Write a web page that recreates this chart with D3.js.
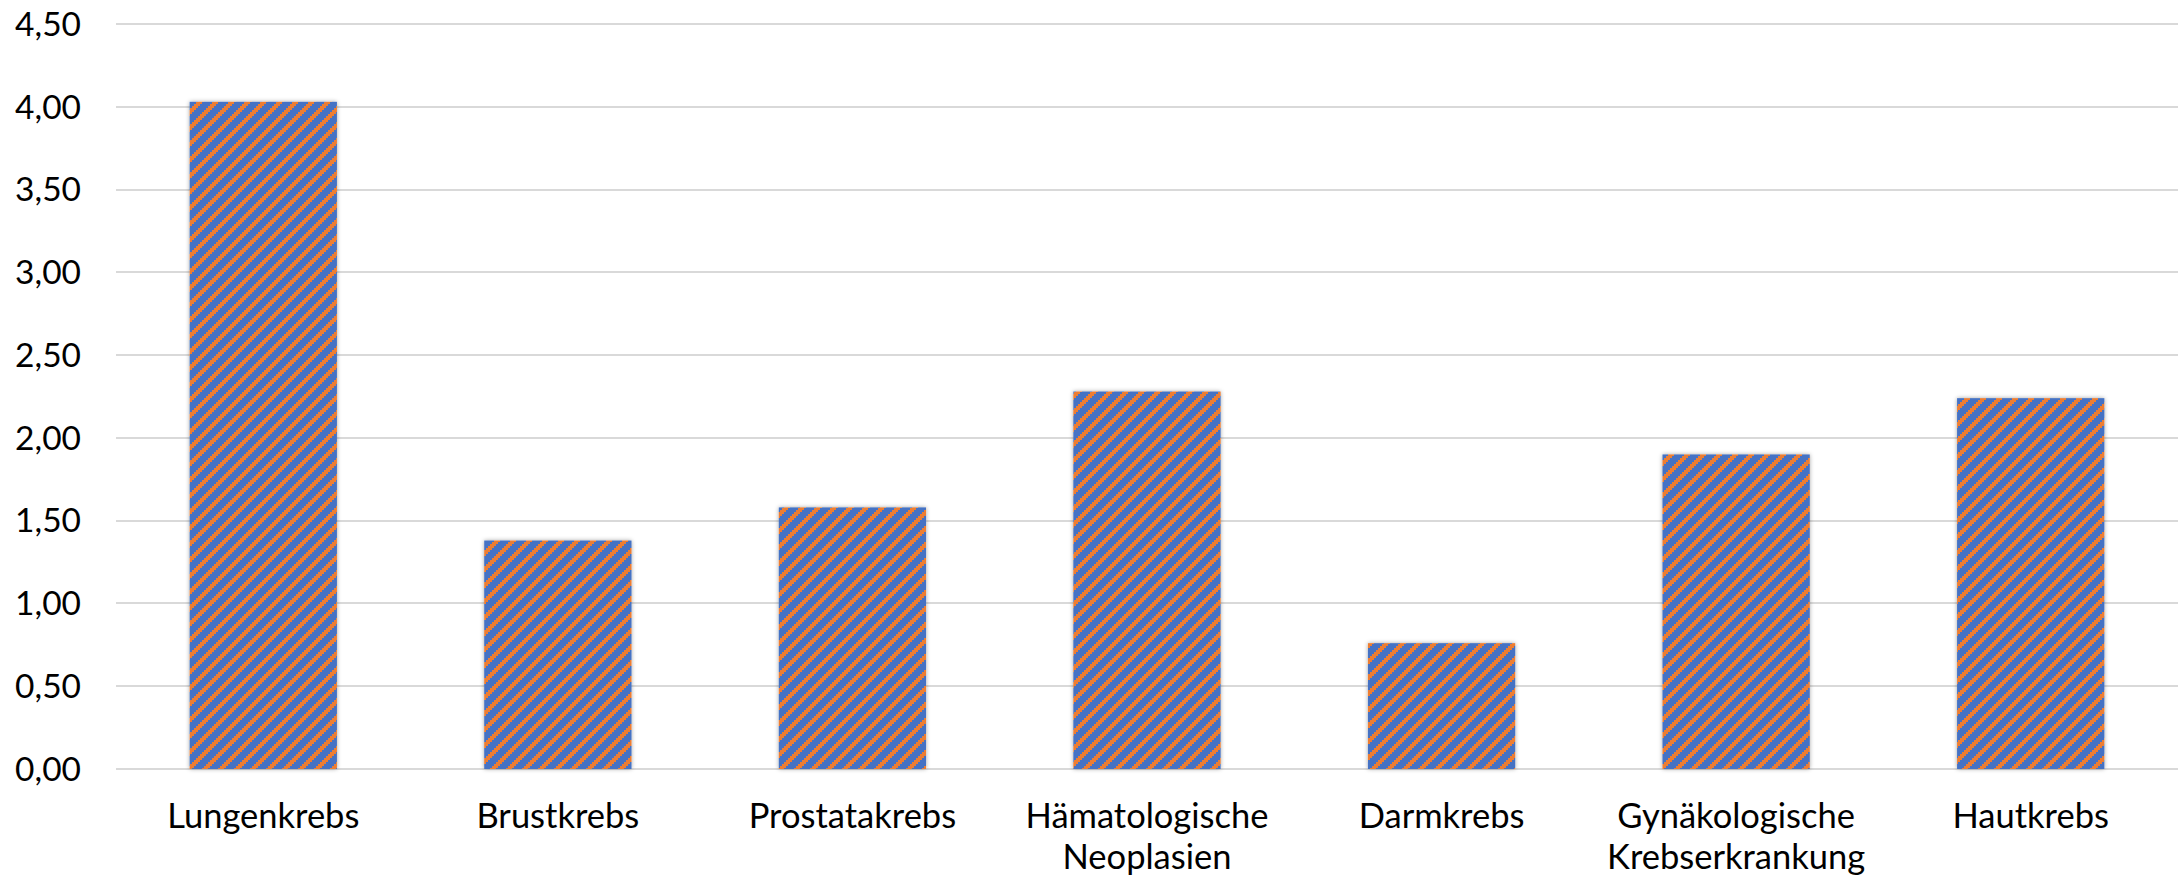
<!DOCTYPE html>
<html>
<head>
<meta charset="utf-8">
<script src="https://cdn.jsdelivr.net/npm/d3@7"></script>
<style>
  html, body { margin: 0; padding: 0; background: #ffffff; }
  svg { display: block; }
</style>
</head>
<body>
<script>
// ---- data ----
const categories = ["Lungenkrebs", "Brustkrebs", "Prostatakrebs", "Hämatologische Neoplasien", "Darmkrebs", "Gynäkologische Krebserkrankung", "Hautkrebs"];
const values = [4.03, 1.38, 1.58, 2.28, 0.76, 1.90, 2.24];
const yTicks = [0, 0.5, 1.0, 1.5, 2.0, 2.5, 3.0, 3.5, 4.0, 4.5];

(function () {
// ---- layout ----
const W = 2178, H = 882;
const plotLeft = 116, plotRight = 2178, plotTop = 24, plotBottom = 769;
const fontFamily = "Lato, 'Open Sans', sans-serif";
const tickFontSize = 33.5;
const catFontSize = 34.5;

const svg = d3.select("body").append("svg").attr("width", W).attr("height", H);

const defs = svg.append("defs");
const pat = defs.append("pattern")
  .attr("id", "stripes").attr("patternUnits", "userSpaceOnUse")
  .attr("width", 16).attr("height", 16);
pat.append("rect").attr("width", 16).attr("height", 16).attr("fill", "#4472C4");
for (let i = 0; i < 8; i++) {
  let x0 = 10 - 2 * i;
  const segs = [];
  if (x0 >= 0) segs.push([x0, 6]);
  else { segs.push([16 + x0, -x0]); segs.push([0, 6 + x0]); }
  segs.forEach(([sx, sw]) => {
    pat.append("rect").attr("x", sx).attr("y", 2 * i).attr("width", sw).attr("height", 2)
      .attr("fill", "#ED7D31").attr("shape-rendering", "crispEdges");
  });
}
const filt = defs.append("filter").attr("id", "shadow")
  .attr("x", "-10%").attr("y", "-10%").attr("width", "120%").attr("height", "120%");
filt.append("feDropShadow").attr("dx", 0).attr("dy", 0).attr("stdDeviation", 2.2)
  .attr("flood-color", "#000").attr("flood-opacity", 0.35);

const x = d3.scaleBand().domain(categories).range([plotLeft, plotRight])
  .paddingInner(0.5).paddingOuter(0.25);
const y = d3.scaleLinear().domain([0, 4.5]).range([plotBottom, plotTop]);

const fmt = v => d3.format(".2f")(v).replace(".", ",");

// gridlines
svg.append("g").selectAll("line").data(yTicks).join("line")
  .attr("x1", plotLeft).attr("x2", plotRight)
  .attr("y1", d => Math.round(y(d))).attr("y2", d => Math.round(y(d)))
  .attr("stroke", "#d9d9d9").attr("stroke-width", 2);

// y axis labels
svg.append("g").selectAll("text").data(yTicks).join("text")
  .attr("x", 81).attr("y", d => y(d) + 11.8)
  .attr("text-anchor", "end")
  .attr("font-family", fontFamily).attr("font-size", tickFontSize).attr("fill", "#000")
  .text(d => fmt(d));

// bars
svg.append("g").selectAll("rect").data(categories).join("rect")
  .attr("x", d => x(d)).attr("width", x.bandwidth())
  .attr("y", (d, i) => y(values[i])).attr("height", (d, i) => y(0) - y(values[i]))
  .attr("fill", "url(#stripes)").attr("filter", "url(#shadow)");

// category labels
const lab = svg.append("g").selectAll("text").data(categories).join("text")
  .attr("text-anchor", "middle")
  .attr("font-family", fontFamily).attr("font-size", catFontSize).attr("fill", "#000");
lab.each(function(d) {
  const t = d3.select(this);
  d.split(" ").forEach((w, k) => {
    t.append("tspan").attr("x", x(d) + x.bandwidth() / 2).attr("y", 828 + k * 41).text(w);
  });
});
})();
</script>
</body>
</html>
